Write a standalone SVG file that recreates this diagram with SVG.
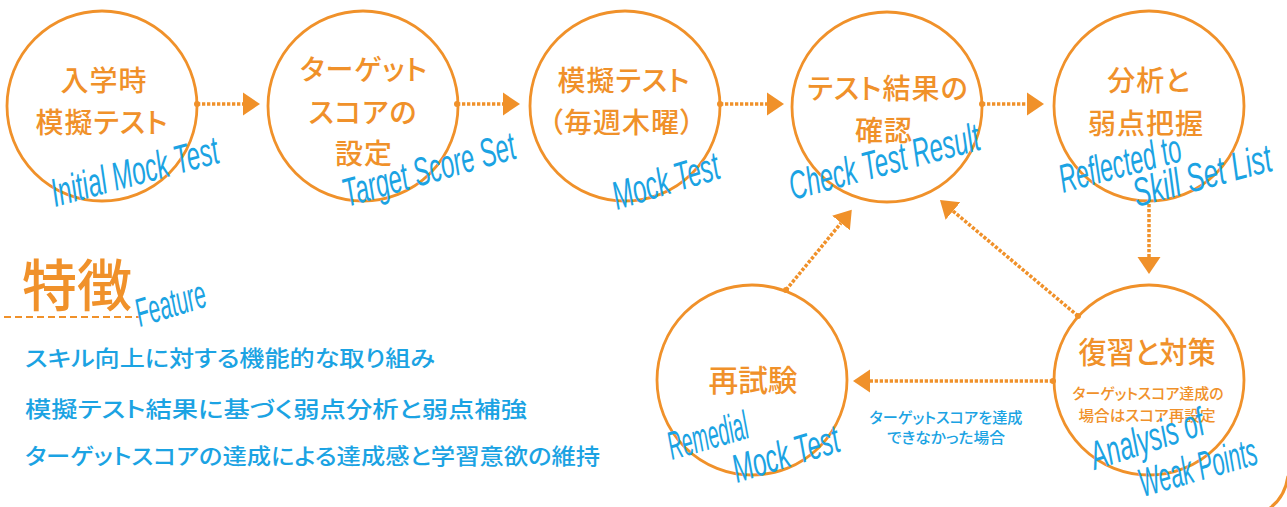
<svg xmlns="http://www.w3.org/2000/svg" width="1287" height="507" viewBox="0 0 1287 507">
<defs>
<style>
.c{fill:none;stroke:#F0912A;stroke-width:2.8}
.jp{font-family:"Noto Sans CJK JP","Noto Sans",sans-serif;font-weight:500;font-feature-settings:"palt";fill:#F0912A;text-anchor:middle}
.big{font-size:28px;letter-spacing:1px}
.sm{font-size:15px}
.bl{font-family:"Noto Sans CJK JP","Noto Sans",sans-serif;font-weight:500;font-feature-settings:"palt";fill:#1BA3E3}
.sc{font-family:"Liberation Sans",Arial,sans-serif;font-style:italic;font-size:40px;fill:#1BA3E3}
.ln{fill:none;stroke:#F0912A;stroke-width:3.5;stroke-dasharray:3.3 1.7}
.dot{fill:#F0912A}
</style>
<marker id="ah" markerUnits="userSpaceOnUse" viewBox="0 -13 18 26" markerWidth="18" markerHeight="26" refX="0" refY="0" orient="auto">
<path d="M0,-11.5 L17,0 L0,11.5 Z" fill="#F0912A"/>
</marker>
</defs>
<rect width="1287" height="507" fill="#fff"/>

<g id="connectors">
<path class="ln" d="M197,104 L243,104" marker-end="url(#ah)"/>
<path class="ln" d="M457,104 L503,104" marker-end="url(#ah)"/>
<path class="ln" d="M720,104 L767,104" marker-end="url(#ah)"/>
<path class="ln" d="M982,104 L1027,104" marker-end="url(#ah)"/>
<path class="ln" d="M1149,204 L1149,257" marker-end="url(#ah)"/>
<path class="ln" d="M1053,381 L870,381" marker-end="url(#ah)"/>
<path class="ln" d="M786,290 L841,223" marker-end="url(#ah)"/>
<path class="ln" d="M1078,316 L953,211" marker-end="url(#ah)"/>
<circle class="dot" cx="197" cy="104" r="3"/>
<circle class="dot" cx="457" cy="104" r="3"/>
<circle class="dot" cx="720" cy="104" r="3"/>
<circle class="dot" cx="982" cy="104" r="3"/>
<circle class="dot" cx="1053" cy="381" r="3"/>
<circle class="dot" cx="786" cy="290" r="3"/>
<circle class="dot" cx="1078" cy="316" r="3"/>
<text class="bl" font-size="15" x="946" y="423" text-anchor="middle" textLength="153" lengthAdjust="spacingAndGlyphs">ターゲットスコアを達成</text>
<text class="bl" font-size="15" x="946" y="443" text-anchor="middle" textLength="118" lengthAdjust="spacingAndGlyphs">できなかった場合</text>
</g>

<g id="node-initial">
<circle class="c" cx="102" cy="106" r="95"/>
<text class="jp big" x="104" y="91">入学時</text>
<text class="jp big" x="102" y="133">模擬テスト</text>
<text class="sc" transform="translate(55 207) rotate(-15)" textLength="172" lengthAdjust="spacingAndGlyphs">Initial Mock Test</text>
</g>

<g id="node-target">
<circle class="c" cx="363" cy="106" r="95"/>
<text class="jp big" x="364" y="80">ターゲット</text>
<text class="jp big" x="363" y="123">スコアの</text>
<text class="jp big" x="364" y="164">設定</text>
<text class="sc" transform="translate(347 207) rotate(-16)" textLength="178" lengthAdjust="spacingAndGlyphs">Target Score Set</text>
</g>

<g id="node-mock">
<circle class="c" cx="625" cy="106" r="95"/>
<text class="jp big" x="624" y="91">模擬テスト</text>
<text class="jp big" x="622" y="133">（毎週木曜）</text>
<text class="sc" transform="translate(617 210) rotate(-17)" textLength="110" lengthAdjust="spacingAndGlyphs">Mock Test</text>
</g>

<g id="node-check">
<circle class="c" cx="887" cy="107" r="95"/>
<text class="jp big" x="888" y="99">テスト結果の</text>
<text class="jp big" x="884" y="141">確認</text>
<text class="sc" transform="translate(793 200) rotate(-15)" textLength="196" lengthAdjust="spacingAndGlyphs">Check Test Result</text>
</g>

<g id="node-analysis">
<circle class="c" cx="1149" cy="106" r="95"/>
<text class="jp big" x="1149" y="91">分析と</text>
<text class="jp big" x="1146" y="134">弱点把握</text>
<text class="sc" transform="translate(1063 193) rotate(-15)" textLength="125" lengthAdjust="spacingAndGlyphs">Reflected to</text>
<text class="sc" transform="translate(1137 207) rotate(-15) scale(0.652 1)">Skill Set List</text>
</g>

<g id="node-review">
<circle class="c" cx="1149" cy="380" r="95"/>
<text class="jp" font-size="30" x="1147" y="363" textLength="137" lengthAdjust="spacingAndGlyphs">復習と対策</text>
<text class="jp sm" x="1148" y="399" textLength="151" lengthAdjust="spacingAndGlyphs">ターゲットスコア達成の</text>
<text class="jp sm" x="1147" y="421" textLength="137" lengthAdjust="spacingAndGlyphs">場合はスコア再設定</text>
<text class="sc" transform="translate(1095 470) rotate(-18)" textLength="118" lengthAdjust="spacingAndGlyphs">Analysis of</text>
<text class="sc" transform="translate(1143 497) rotate(-16) scale(0.543 1)">Weak Points</text>
</g>

<g id="node-remedial">
<circle class="c" cx="752" cy="380" r="95"/>
<text class="jp" font-size="30" x="753" y="391" textLength="89" lengthAdjust="spacingAndGlyphs">再試験</text>
<text class="sc" transform="translate(672 460) rotate(-16)" textLength="82" lengthAdjust="spacingAndGlyphs">Remedial</text>
<text class="sc" transform="translate(737 483) rotate(-17)" textLength="110" lengthAdjust="spacingAndGlyphs">Mock Test</text>
</g>

<g id="feature">
<text class="jp" font-size="56" x="22" y="306" style="text-anchor:start" textLength="110" lengthAdjust="spacingAndGlyphs">特徴</text>
<path d="M4,317 H140" fill="none" stroke="#F0912A" stroke-width="2" stroke-dasharray="7 4"/>
<text class="sc" font-size="30" transform="translate(140 327) rotate(-17)" textLength="72" lengthAdjust="spacingAndGlyphs">Feature</text>
<text class="bl" font-size="22" x="25" y="366" textLength="410" lengthAdjust="spacingAndGlyphs">スキル向上に対する機能的な取り組み</text>
<text class="bl" font-size="22" x="25" y="417" textLength="502" lengthAdjust="spacingAndGlyphs">模擬テスト結果に基づく弱点分析と弱点補強</text>
<text class="bl" font-size="22" x="25" y="464" textLength="575" lengthAdjust="spacingAndGlyphs">ターゲットスコアの達成による達成感と学習意欲の維持</text>
</g>

<g id="corner-arc">
<path d="M1288,476 Q1285,497 1270,508" fill="none" stroke="#F0912A" stroke-width="3"/>
</g>
</svg>
